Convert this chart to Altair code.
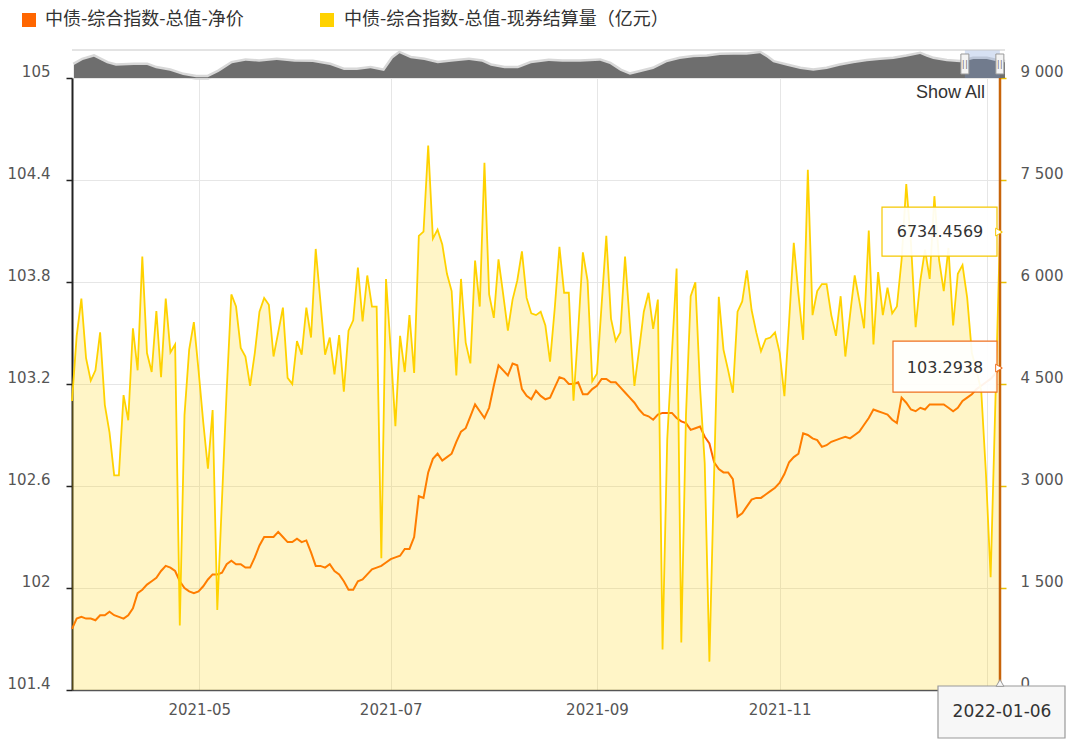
import altair as alt
import pandas as pd

PRICE_NAME = "中债-综合指数-总值-净价"
VOL_NAME = "中债-综合指数-总值-现券结算量（亿元）"

# 净价 (left axis), one value per trading day
price = [
    101.76, 101.82, 101.83, 101.82, 101.82, 101.81, 101.84, 101.84, 101.86, 101.84,
    101.83, 101.82, 101.84, 101.88, 101.97, 101.99, 102.02, 102.04, 102.06, 102.10,
    102.13, 102.12, 102.10, 102.04, 102.00, 101.98, 101.97, 101.98, 102.01, 102.05,
    102.08, 102.08, 102.09, 102.14, 102.16, 102.14, 102.14, 102.12, 102.12, 102.18,
    102.25,
    102.30, 102.30, 102.30, 102.33, 102.30, 102.27, 102.27, 102.29, 102.27, 102.28,
    102.21, 102.13, 102.13, 102.12, 102.14, 102.10, 102.08, 102.04, 101.99, 101.99,
    102.04, 102.05, 102.08, 102.11, 102.12, 102.13, 102.15, 102.17, 102.18, 102.19,
    102.23, 102.23, 102.30, 102.54, 102.53, 102.68, 102.76, 102.79, 102.75,
    102.77, 102.79, 102.86, 102.92, 102.94, 103.01, 103.08, 103.04, 103.00, 103.06,
    103.19, 103.31, 103.28, 103.25, 103.32, 103.31, 103.17, 103.13, 103.11, 103.16,
    103.13, 103.11, 103.12, 103.18, 103.24, 103.23, 103.20, 103.20, 103.21, 103.14,
    103.14, 103.17, 103.19, 103.23, 103.23, 103.21, 103.21, 103.18, 103.15,
    103.12, 103.09, 103.05, 103.02, 103.01, 102.99, 103.02, 103.03, 103.03, 103.03,
    103.00, 102.98, 102.97, 102.93, 102.94, 102.95, 102.89, 102.85, 102.74, 102.70,
    102.68, 102.68, 102.64, 102.42, 102.44, 102.48, 102.52, 102.53, 102.53, 102.55,
    102.57, 102.59, 102.62, 102.67, 102.74, 102.77, 102.79, 102.91, 102.90, 102.88,
    102.87,
    102.83, 102.84, 102.86, 102.87, 102.88, 102.89, 102.88, 102.90, 102.92, 102.96,
    103.00, 103.05, 103.04, 103.03, 103.02, 102.99, 102.97, 103.12, 103.09, 103.05,
    103.04, 103.06, 103.05, 103.08, 103.08, 103.08, 103.08, 103.06, 103.04, 103.06,
    103.10, 103.12, 103.14, 103.17, 103.19, 103.21, 103.23, 103.26, 103.2938,
]

# 现券结算量 (亿元, right axis)
volume = [
    4250, 5208, 5756, 4879, 4549, 4701, 5259, 4194, 3789, 3155,
    3155, 4336, 3966, 5320, 4701, 6374, 4955, 4676, 5573, 4600,
    5756, 4965, 5082, 950, 4042, 5006, 5411, 4701, 3941, 3256,
    4118, 1178, 2800, 4400, 5817, 5639, 5031, 4904, 4473, 4955,
    5563,
    5766, 5665, 4904, 5259, 5624, 4590, 4499, 5132, 4930, 5624,
    5183, 6486, 5715, 4930, 5183, 4641, 5218, 4387, 5284, 5436,
    6212, 5421, 6096, 5639, 5639, 1938, 6045, 5006, 3880, 5208,
    4676, 5513, 4661, 6679, 6740, 8007, 6638, 6770, 6552,
    6121, 5867, 4625, 6045, 5107, 4803, 6314, 5639, 7753, 5817,
    5472, 6334, 5817, 5284, 5741, 6020, 6451, 5766, 5538, 5513,
    5563, 5360, 4828, 5614, 6516, 5842, 5842, 4255, 5284, 6435,
    6020, 4539, 4651, 5665, 6679, 5462, 5132, 5259, 6375,
    5400, 4473, 5006, 5563, 5842, 5310, 5741, 595, 3687, 4955,
    6197, 697, 4042, 5791, 5994, 4448, 3332, 417, 3180, 5781,
    5006, 4701, 4372, 5563, 5715, 6171, 5588, 5259, 4980, 5158,
    5183, 5259, 4955, 4321, 5411, 6577, 5817, 5148, 7652, 5513,
    5867,
    5969, 5969, 5513, 5208, 5791, 4904, 5513, 6096, 5715, 5320,
    6755, 5082, 6146, 5513, 5918, 5538, 5639, 6324, 7439, 6577,
    5335, 6020, 6476, 6045, 7262, 6324, 5867, 6501, 5360, 6121,
    6248, 5766, 4955, 4701, 4397, 3180, 1659, 4194, 6734.4569,
]

# trading calendar (interbank market): holidays removed, make-up working days added
holidays = ["2021-04-05", "2021-05-03", "2021-05-04", "2021-05-05", "2021-06-14",
            "2021-09-20", "2021-09-21", "2021-10-01", "2021-10-04", "2021-10-05",
            "2021-10-06", "2021-10-07", "2022-01-03"]
makeup_days = ["2021-04-25", "2021-05-08", "2021-09-18", "2021-09-26", "2021-10-09"]

month_starts = ["2021-05-01", "2021-07-01", "2021-09-01", "2021-11-01", "2022-01-01"]
month_labels = ["2021-05", "2021-07", "2021-09", "2021-11", ""]

left_ticks = [101.4, 102.0, 102.6, 103.2, 103.8, 104.4, 105.0]
right_ticks = [0, 1500, 3000, 4500, 6000, 7500, 9000]

# navigator (full history of 净价, relative level)
nav_years = [2002.04, 2002.23, 2002.47, 2002.75, 2002.94, 2003.33, 2003.61, 2003.80,
             2004.10, 2004.38, 2004.66, 2004.91, 2005.15, 2005.43, 2005.72, 2006.01,
             2006.39, 2006.77, 2007.16, 2007.53, 2007.83, 2008.11, 2008.40, 2008.69,
             2008.88, 2009.02, 2009.26, 2009.55, 2009.84, 2010.13, 2010.51, 2010.79,
             2010.98, 2011.27, 2011.56, 2011.84, 2012.22, 2012.51, 2012.89,
             2013.32, 2013.53, 2013.75, 2013.96, 2014.18, 2014.46, 2014.75, 2015.03,
             2015.32, 2015.61, 2015.89, 2016.18, 2016.46, 2016.75, 2016.89, 2017.03,
             2017.32, 2017.61, 2017.89, 2018.18, 2018.46, 2018.75, 2019.04, 2019.32,
             2019.61, 2019.89, 2020.18, 2020.32, 2020.46, 2020.75, 2021.04, 2021.18,
             2021.32, 2021.61, 2021.82, 2022.0]
nav_levels = [13, 18, 21.3, 14.7, 12.3, 13, 13, 9.7, 7.3, 3, 0.7, 0.7, 6.3, 14.7, 17.3,
              16.3, 18, 16.3, 16, 13, 8, 8, 9.7, 7, 19.7, 24.7, 19.7, 18, 14.7, 16.3,
              18, 16.3, 12.3, 9.7, 9.7, 14.7, 17, 16.3, 16.3,
              17.3, 14, 7.3, 3.3, 5.7, 9, 15.7, 19, 20.7, 21.3, 23, 23.3, 23.3, 24.7,
              20.7, 15.7, 12.3, 9, 7.3, 9, 12.3, 14.7, 16.7, 18, 19, 21.3, 24, 21.3,
              19, 16.7, 15.7, 17.3, 19, 19, 16.7, 15.7]
window_years = [2021.14, 2021.89]

assert len(price) == len(volume)
assert len(nav_years) == len(nav_levels)
N = len(price)
days = pd.bdate_range("2021-03-01", "2022-01-06")
days = days.difference(pd.DatetimeIndex(holidays)).union(pd.DatetimeIndex(makeup_days))
days = days[-N:]

df = pd.DataFrame({"idx": list(range(N)), "date": days.strftime("%Y-%m-%d"),
                   "price": price, "vol": volume})
last = df.iloc[[-1]].reset_index(drop=True)

tick_pos = []
for m in month_starts:
    t = pd.Timestamp(m)
    i1 = int(days.searchsorted(t))
    d0, d1 = days[i1 - 1], days[i1]
    tick_pos.append(round(i1 - 1 + (t - d0) / (d1 - d0), 3))

label_expr = "''"
for p, lab in reversed(list(zip(tick_pos, month_labels))):
    label_expr = f"abs(datum.value - {p}) < 0.01 ? '{lab}' : ({label_expr})"

W, H = 928, 612
FONT = "DejaVu Sans"
CJK = "Noto Sans CJK SC"
ORANGE, YELLOW = "#FF6600", "#FFD200"

xs = alt.Scale(domain=[0, N - 1], nice=False, zero=False)
ps = alt.Scale(domain=[101.4, 105], nice=False, zero=False)
vs = alt.Scale(domain=[0, 9000], nice=False, zero=False)

x_axis = alt.Axis(values=tick_pos, labelExpr=label_expr, title=None, grid=True,
                  gridColor="#E6E6E6", ticks=False, domainColor="#555555",
                  domainWidth=1.5, labelFont=FONT, labelFontSize=15,
                  labelColor="#555555", labelPadding=12, labelFlush=False,
                  labelOverlap=False)
left_axis = alt.Axis(orient="left", values=left_ticks, title=None, grid=True,
                     gridColor="#E6E6E6", labelExpr="format(datum.value, '~f')",
                     domainColor="#222222", domainWidth=2, tickColor="#222222",
                     tickSize=6, tickWidth=1.5, labelFont=FONT, labelFontSize=15,
                     labelColor="#555555", labelPadding=16, labelBaseline="alphabetic",
                     labelOffset=-2, labelOverlap=False, labelFlush=False)
right_axis = alt.Axis(orient="right", values=right_ticks, title=None, grid=False,
                      labelExpr="replace(format(datum.value, ','), ',', ' ')",
                      domain=False, tickColor="#E8BE00", tickSize=6, tickWidth=1.5,
                      labelFont=FONT, labelFontSize=15, labelColor="#555555",
                      labelPadding=14, labelBaseline="alphabetic", labelOffset=-2,
                      labelOverlap=False, labelFlush=False)

X = alt.X("idx:Q", scale=xs, axis=None)

price_line = alt.Chart(df).mark_line(strokeWidth=2, color=ORANGE).encode(
    x=alt.X("idx:Q", scale=xs, axis=x_axis),
    y=alt.Y("price:Q", scale=ps, axis=left_axis),
)

vol_area = alt.Chart(df).mark_area(color=YELLOW, opacity=0.22).encode(
    x=X, y=alt.Y("vol:Q", scale=vs, axis=None)
)

vol_line = alt.Chart(df).mark_line(strokeWidth=1.8, color=YELLOW).encode(
    x=X, y=alt.Y("vol:Q", scale=vs, axis=right_axis),
)

# legend (top of chart)
one = pd.DataFrame({"k": [0]})
leg_sq1 = alt.Chart(one).mark_square(size=196, color=ORANGE, opacity=1).encode(
    x=alt.value(-43), y=alt.value(-58))
leg_tx1 = alt.Chart(one).mark_text(
    text=PRICE_NAME, align="left", baseline="middle", font=CJK, fontSize=18,
    color="#333333").encode(x=alt.value(-27), y=alt.value(-58))
leg_sq2 = alt.Chart(one).mark_square(size=196, color=YELLOW, opacity=1,
                                     cornerRadius=2).encode(
    x=alt.value(255), y=alt.value(-58))
leg_tx2 = alt.Chart(one).mark_text(
    text=VOL_NAME, align="left", baseline="middle", font=CJK, fontSize=18,
    color="#333333").encode(x=alt.value(272), y=alt.value(-58))

crosshair = alt.Chart(last).mark_rule(color="#C8640A", strokeWidth=2.5).encode(
    x=X, y=alt.value(0), y2=alt.value(H)
)

vol_box = alt.Chart(last).mark_rect(
    fill="white", fillOpacity=0.92, stroke="#F5C800", strokeWidth=1.2,
    xOffset=-118, x2Offset=-3, yOffset=-25, y2Offset=24
).encode(x=X, x2="idx:Q", y=alt.Y("vol:Q", scale=vs, axis=None), y2="vol:Q")
vol_arrow = alt.Chart(last).mark_point(
    shape="triangle-right", size=60, filled=True, fill="white", stroke="#F5C800",
    strokeWidth=1, opacity=1, xOffset=-1
).encode(x=X, y=alt.Y("vol:Q", scale=vs, axis=None))
vol_text = alt.Chart(last).mark_text(
    dx=-60, font=FONT, fontSize=16, color="#333333"
).encode(x=X, y=alt.Y("vol:Q", scale=vs, axis=None), text=alt.Text("vol:Q", format=".4f"))

price_box = alt.Chart(last).mark_rect(
    fill="white", fillOpacity=0.92, stroke="#F07020", strokeWidth=1.2,
    xOffset=-107, x2Offset=-3, yOffset=-27, y2Offset=24
).encode(x=X, x2="idx:Q", y=alt.Y("price:Q", scale=ps, axis=None), y2="price:Q")
price_arrow = alt.Chart(last).mark_point(
    shape="triangle-right", size=60, filled=True, fill="white", stroke="#F07020",
    strokeWidth=1, opacity=1, xOffset=-1
).encode(x=X, y=alt.Y("price:Q", scale=ps, axis=None))
price_text = alt.Chart(last).mark_text(
    dx=-55, font=FONT, fontSize=16, color="#333333"
).encode(x=X, y=alt.Y("price:Q", scale=ps, axis=None),
         text=alt.Text("price:Q", format=".4f"))

date_box = alt.Chart(last).mark_rect(
    fill="#F7F7F7", stroke="#999999", strokeWidth=1.2, xOffset=-62, x2Offset=65
).encode(x=X, x2="idx:Q", y=alt.value(608), y2=alt.value(660))
date_arrow = alt.Chart(last).mark_point(
    shape="triangle-up", size=60, filled=True, fill="#F7F7F7", stroke="#999999",
    strokeWidth=1, opacity=1
).encode(x=X, y=alt.value(605))
date_text = alt.Chart(last).mark_text(
    dx=2, font=FONT, fontSize=17, color="#333333"
).encode(x=X, y=alt.value(634), text="date:N")

show_all = alt.Chart(last).mark_text(
    text="Show All", align="right", font="Liberation Sans", fontSize=18, color="#333333"
).encode(x=alt.value(913), y=alt.value(15))

nav_df = pd.DataFrame({"year": nav_years, "level": nav_levels})
nxs = alt.Scale(domain=[2002, 2022], range=[0, 933], nice=False, zero=False)
nys = alt.Scale(domain=[0, 28], range=[0, -28], nice=False, zero=False)
NX = alt.X("year:Q", scale=nxs, axis=None)
NY = alt.Y("level:Q", scale=nys, axis=None)

nav_halo = alt.Chart(nav_df).mark_line(color="#D8D8D8", strokeWidth=5).encode(x=NX, y=NY)
nav_area = alt.Chart(nav_df).mark_area(color="#6E6E6E").encode(x=NX, y=NY)
win_df = pd.DataFrame({"a": [window_years[0]], "b": [window_years[1]]})
nav_window = alt.Chart(win_df).mark_rect(color="#7A9AD8", opacity=0.3).encode(
    x=alt.X("a:Q", scale=nxs, axis=None), x2="b:Q", y=alt.value(-28), y2=alt.value(0)
)
hdf = pd.DataFrame({"year": window_years})
handles = alt.Chart(hdf).mark_rect(
    fill="#F4F4F4", stroke="#999999", strokeWidth=1, xOffset=-4, x2Offset=4
).encode(x=NX, x2="year:Q", y=alt.value(-24), y2=alt.value(-4))
grips = alt.Chart(hdf).mark_text(
    text="||", font=FONT, fontSize=9, color="#777777"
).encode(x=NX, y=alt.value(-14))
nav_frame = alt.Chart(last).mark_rule(color="#C8C8C8", strokeWidth=1).encode(
    x=alt.value(0), x2=alt.value(933), y=alt.value(-28)
)

chart = alt.layer(
    price_line, vol_area, vol_line, crosshair,
    vol_box, vol_arrow, vol_text, price_box, price_arrow, price_text,
    date_box, date_arrow, date_text,
    nav_halo, nav_area, nav_window, handles, grips, nav_frame, show_all,
    leg_sq1, leg_tx1, leg_sq2, leg_tx2,
).resolve_scale(
    x="independent", y="independent"
).properties(
    width=W, height=H,
    autosize=alt.AutoSizeParams(type="none"),
    padding={"left": 72, "top": 78, "right": 80, "bottom": 57},
    background="white",
).configure_view(stroke=None)

chart.save("out.html", embed_options={"renderer": "svg", "actions": False})
